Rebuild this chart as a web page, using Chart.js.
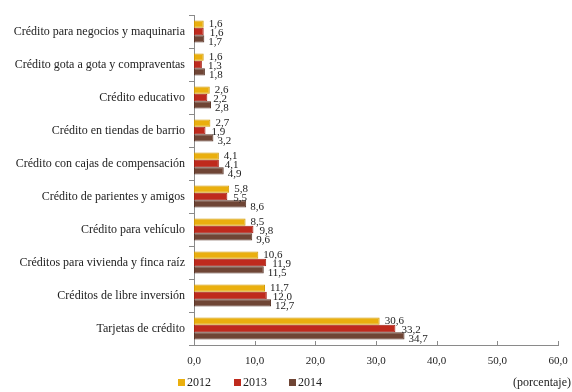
<!DOCTYPE html>
<html>
<head>
<meta charset="utf-8">
<script src="https://cdn.jsdelivr.net/npm/chart.js@4"></script>
<style>
  html, body { margin: 0; padding: 0; background: #fff; }
  #wrap { width: 572px; height: 392px; }
</style>
</head>
<body>
<div id="wrap"><canvas id="credit-chart" width="572" height="392"></canvas></div>
<script>
const categories = [
    'Crédito para negocios y maquinaria',
    'Crédito gota a gota y compraventas',
    'Crédito educativo',
    'Crédito en tiendas de barrio',
    'Crédito con cajas de compensación',
    'Crédito de parientes y amigos',
    'Crédito para vehículo',
    'Créditos para vivienda y finca raíz',
    'Créditos de libre inversión',
    'Tarjetas de crédito'
]
const years = ['2012', '2013', '2014']
const values2012 = [1.6, 1.6, 2.6, 2.7, 4.1, 5.8, 8.5, 10.6, 11.7, 30.6]
const values2013 = [1.6, 1.3, 2.2, 1.9, 4.1, 5.5, 9.8, 11.9, 12.0, 33.2]
const values2014 = [1.7, 1.8, 2.8, 3.2, 4.9, 8.6, 9.6, 11.5, 12.7, 34.7]
const xTicks = [0, 10, 20, 30, 40, 50, 60]

const fillColors = ['#EAAF0E', '#BF2A1D', '#6F4535']
const edgeColors = ['#D19A06', '#A52216', '#5A3628']
const serif = 'Liberation Serif, Times New Roman, serif'

const fmt = v => v.toFixed(1).replace('.', ',')

// value labels at bar ends + inward x ticks + legend
const labelShiftX = [5, 6, 4]
const labelShiftY = [0, 1.5, 3]
const extras = {
    id: 'extras',
    afterDatasetsDraw(chart) {
        const ctx = chart.ctx
        ctx.save()
        ctx.font = '11px ' + serif
        ctx.fillStyle = '#222'
        ctx.textBaseline = 'middle'
        ctx.textAlign = 'left'
        chart.data.datasets.forEach((ds, i) => {
            chart.getDatasetMeta(i).data.forEach((bar, j) => {
                ctx.fillText(fmt(ds.data[j]), bar.x + labelShiftX[i], bar.y + labelShiftY[i])
            })
        })

        // x ticks pointing into the plot
        const xs = chart.scales.x
        const bottom = chart.chartArea.bottom
        ctx.strokeStyle = '#8a8a8a'
        ctx.lineWidth = 1
        xTicks.forEach(t => {
            const px = Math.round(xs.getPixelForValue(t)) + 0.5
            ctx.beginPath()
            ctx.moveTo(px, bottom - 4)
            ctx.lineTo(px, bottom + 1)
            ctx.stroke()
        })

        // legend
        ctx.font = '12px ' + serif
        ctx.fillStyle = '#222'
        const lx = [178, 234, 289]
        years.forEach((y, i) => {
            ctx.fillStyle = fillColors[i]
            ctx.fillRect(lx[i], 379, 7, 7)
            ctx.fillStyle = '#222'
            ctx.fillText(y, lx[i] + 9, 383)
        })
        ctx.textAlign = 'right'
        ctx.fillText('(porcentaje)', 571, 383)
        ctx.restore()
    }
}

new Chart(document.getElementById('credit-chart'), {
    type: 'bar',
    data: {
        labels: categories,
        datasets: [
            { label: years[0], data: values2012 },
            { label: years[1], data: values2013 },
            { label: years[2], data: values2014 }
        ].map((d, i) => Object.assign(d, {
            backgroundColor: fillColors[i],
            borderColor: edgeColors[i],
            borderWidth: 1,
            borderSkipped: false,
            categoryPercentage: 0.66,
            barPercentage: 1.0
        }))
    },
    options: {
        indexAxis: 'y',
        responsive: false,
        animation: false,
        layout: { padding: { left: 0, right: 14, top: 15, bottom: 0 } },
        plugins: {
            legend: { display: false },
            tooltip: { enabled: false }
        },
        scales: {
            x: {
                min: 0,
                max: 60,
                afterBuildTicks: s => { s.ticks = xTicks.map(v => ({ value: v })) },
                afterFit: s => { s.height = 47 },
                grid: { display: false },
                border: { display: true, color: '#8a8a8a' },
                ticks: {
                    padding: 2,
                    color: '#222',
                    font: { family: serif, size: 11 },
                    callback: v => fmt(v)
                }
            },
            y: {
                afterFit: s => { s.width = 194 },
                grid: { display: true, drawOnChartArea: false, offset: true, tickLength: 5, color: '#8a8a8a' },
                border: { display: true, color: '#8a8a8a' },
                ticks: {
                    padding: 4,
                    color: '#222',
                    font: { family: serif, size: 12 }
                }
            }
        }
    },
    plugins: [extras]
})
</script>
</body>
</html>
